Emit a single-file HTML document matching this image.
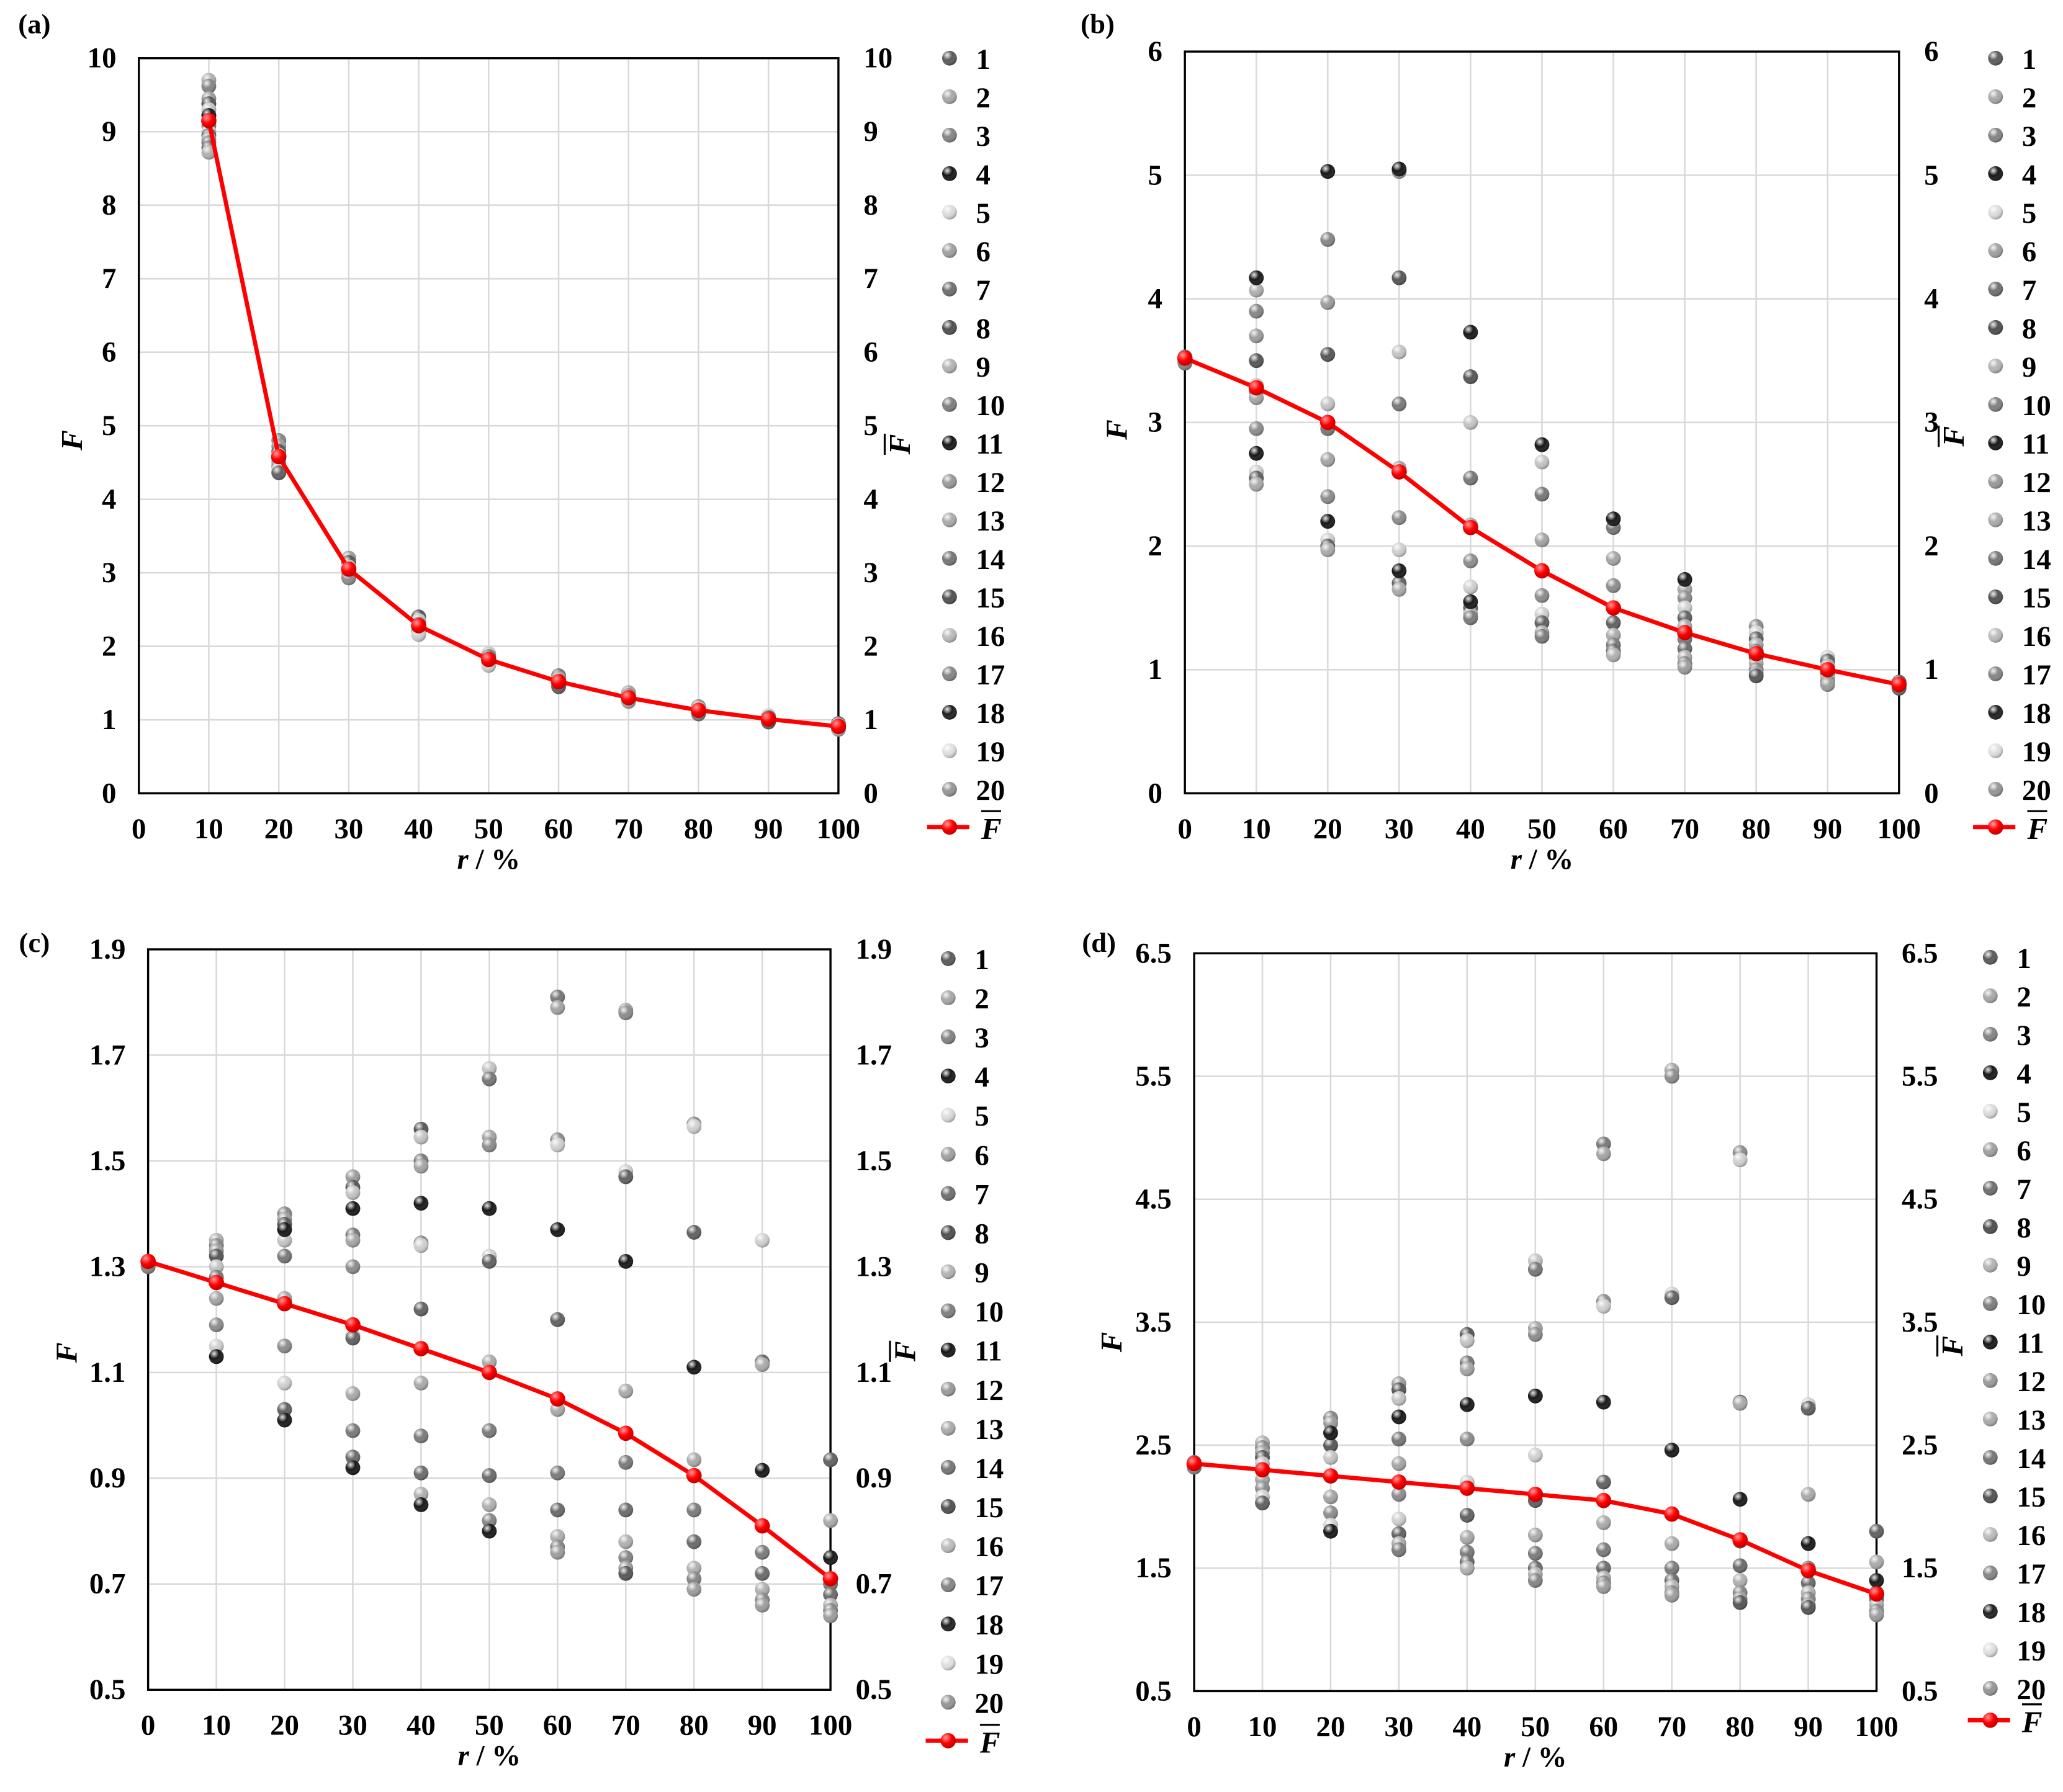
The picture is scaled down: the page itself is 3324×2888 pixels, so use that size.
<!DOCTYPE html>
<html><head><meta charset="utf-8"><style>
html,body{margin:0;padding:0;background:#fff;}
svg{display:block;}
text{font-family:"Liberation Serif","Times New Roman",serif;font-weight:bold;fill:#000;}
</style></head><body>
<svg id="fig" width="3324" height="2888" viewBox="0 0 1560 1355.3" preserveAspectRatio="none" xmlns="http://www.w3.org/2000/svg">
<defs>
<radialGradient id="gr" cx="0.35" cy="0.3" r="0.75"><stop offset="0" stop-color="#fff" stop-opacity="0.9"/><stop offset="0.45" stop-color="#fff" stop-opacity="0"/><stop offset="1" stop-color="#000" stop-opacity="0.35"/></radialGradient>
<radialGradient id="rg" cx="0.35" cy="0.3" r="0.75"><stop offset="0" stop-color="#ff9a9a"/><stop offset="0.5" stop-color="#f00"/><stop offset="1" stop-color="#b00"/></radialGradient>
</defs>
</svg>
<script>
const xCats = [0,10,20,30,40,50,60,70,80,90,100];
const seriesNames = ['1','2','3','4','5','6','7','8','9','10','11','12','13','14','15','16','17','18','19','20'];
const seriesShades = ['#5a5a5a','#a8a8a8','#838383','#151515','#dcdcdc','#a0a0a0','#6e6e6e','#4e4e4e','#b4b4b4','#7e7e7e','#151515','#999','#ababab','#757575','#505050','#bcbcbc','#858585','#1e1e1e','#e0e0e0','#959595'];
const pointShades = ['#6a6a6a','#b0b0b0','#858585','#9c9c9c','#555','#c4c4c4','#777','#a4a4a4','#8c8c8c','#d0d0d0','#606060','#aaa','#7a7a7a'];

// Panel (a)
const aVals = [[],
 [9.7,9.62,9.45,9.38,9.3,9.22,9.15,9.08,9.0,8.95,8.9,8.85,8.78,8.72],
 [4.8,4.72,4.65,4.6,4.55,4.5,4.45,4.4,4.36],
 [3.2,3.14,3.08,3.03,2.98,2.93],
 [2.4,2.35,2.3,2.25,2.2,2.16],
 [1.9,1.86,1.82,1.78,1.74],
 [1.6,1.56,1.52,1.48,1.45],
 [1.37,1.33,1.3,1.27,1.25],
 [1.18,1.15,1.12,1.1,1.08],
 [1.06,1.03,1.0,0.98,0.97],
 [0.95,0.93,0.91,0.89,0.87]];
const aBlack = [null,9.22,null,null,null,null,null,null,null,null,null];
const aMean = [null,9.15,4.58,3.05,2.28,1.82,1.52,1.3,1.13,1.01,0.91];

// Panel (b)
const bVals = [[3.53,3.5,3.48],
 [4.07,3.9,3.7,3.5,3.3,3.25,3.2,2.95,2.6,2.55,2.5],
 [4.48,3.97,3.55,3.15,2.95,2.7,2.4,2.05,2.0,1.97],
 [5.03,4.17,3.57,3.15,2.63,2.23,1.97,1.7,1.65],
 [3.37,3.0,2.55,2.17,1.88,1.67,1.5,1.45,1.42],
 [2.68,2.42,2.05,1.6,1.45,1.38,1.3,1.27],
 [2.15,1.9,1.68,1.5,1.38,1.28,1.2,1.15,1.12],
 [1.65,1.58,1.5,1.42,1.35,1.25,1.17,1.1,1.05,1.02],
 [1.35,1.3,1.25,1.2,1.15,1.1,1.05,1.0,0.97,0.95],
 [1.1,1.07,1.03,1.0,0.97,0.93,0.9,0.88],
 [0.9,0.88,0.86,0.85]];
const bBlack = [null,4.17,5.03,5.05,3.73,2.82,2.22,1.73,null,null,null];
const bBlack2 = [null,2.75,2.2,1.8,1.55,null,null,null,null,null,null];
const bMean = [3.52,3.28,3.0,2.6,2.15,1.8,1.5,1.3,1.13,1.0,0.88];

// Panel (c)
const cVals = [[1.31,1.3,1.3],
 [1.35,1.34,1.33,1.32,1.3,1.28,1.24,1.19,1.15],
 [1.4,1.39,1.38,1.35,1.32,1.24,1.15,1.08,1.03],
 [1.47,1.45,1.44,1.36,1.35,1.3,1.17,1.165,1.06,0.99,0.94],
 [1.56,1.545,1.5,1.49,1.345,1.34,1.22,1.08,0.98,0.91,0.87],
 [1.675,1.655,1.545,1.53,1.32,1.31,1.12,0.99,0.905,0.85,0.82],
 [1.81,1.79,1.54,1.53,1.2,1.03,0.91,0.84,0.79,0.77,0.76],
 [1.785,1.78,1.48,1.47,1.065,0.93,0.84,0.78,0.75,0.73,0.72],
 [1.57,1.565,1.365,0.935,0.84,0.78,0.73,0.71,0.69],
 [1.35,1.12,1.115,0.76,0.72,0.69,0.67,0.66],
 [0.935,0.82,0.7,0.68,0.66,0.65,0.64]];
const cBlack = [null,1.13,1.37,1.41,1.42,1.41,1.37,1.31,1.11,0.915,0.75];
const cBlack2 = [null,null,1.01,0.92,0.85,0.8,null,null,null,null,null];
const cMean = [1.31,1.27,1.23,1.19,1.145,1.1,1.05,0.985,0.905,0.81,0.71];

// Panel (d)
const dVals = [[2.36,2.34,2.32],
 [2.52,2.48,2.44,2.4,2.35,2.3,2.22,2.15,2.08,2.03],
 [2.72,2.68,2.5,2.4,2.25,2.08,1.95,1.85],
 [3.0,2.95,2.88,2.55,2.35,2.1,1.9,1.78,1.7,1.65],
 [3.4,3.35,3.17,3.12,2.55,2.2,1.93,1.75,1.63,1.55,1.5],
 [4.0,3.93,3.45,3.4,2.42,2.05,1.77,1.62,1.5,1.45,1.4],
 [4.95,4.87,3.67,3.63,2.2,1.87,1.65,1.5,1.42,1.38,1.35],
 [5.55,5.5,3.73,3.7,1.7,1.5,1.4,1.35,1.3,1.28],
 [4.88,4.82,2.85,2.84,1.72,1.52,1.4,1.3,1.25,1.22],
 [2.83,2.8,2.1,1.5,1.38,1.3,1.25,1.2,1.18],
 [1.8,1.55,1.3,1.25,1.2,1.15,1.12]];
const dBlack = [null,null,2.6,2.73,2.83,2.9,2.85,2.46,2.06,1.7,1.4];
const dBlack2 = [null,null,1.8,null,null,null,null,null,null,null,null];
const dMean = [2.35,2.3,2.25,2.2,2.15,2.1,2.05,1.94,1.73,1.48,1.29];

const yTicksA = ['0','1','2','3','4','5','6','7','8','9','10'];
const yTicksB = ['0','1','2','3','4','5','6'];
const yTicksC = ['0.5','0.7','0.9','1.1','1.3','1.5','1.7','1.9'];
const yTicksD = ['0.5','1.5','2.5','3.5','4.5','5.5','6.5'];

const NS='http://www.w3.org/2000/svg';
const svg=document.getElementById('fig');
function mk(tag,attrs,parent){const e=document.createElementNS(NS,tag);for(const k in attrs)e.setAttribute(k,attrs[k]);(parent||svg).appendChild(e);return e;}
function txt(str,x,y,anchor,size,parent){const t=mk('text',{x:x,y:y,'text-anchor':anchor,'font-size':size},parent);t.textContent=str;return t;}
function ball(cx,cy,fill,r,parent){const g=mk('g',{},parent);mk('circle',{cx:cx,cy:cy,r:r,fill:fill},g);mk('circle',{cx:cx,cy:cy,r:r,fill:'url(#gr)'},g);return g;}

const panels=[
 {id:'a',tag:'(a)',tx:26,ty:25,L:105,R:634,T:44,B:600,yt:yTicksA,vals:aVals,blacks:[aBlack],mean:aMean,lx:718,lt:44,ls:29.1,ly:62,lyy:333,ry:688,ryy:336},
 {id:'b',tag:'(b)',tx:830,ty:25,L:896,R:1436,T:39,B:600,yt:yTicksB,vals:bVals,blacks:[bBlack,bBlack2],mean:bMean,lx:1509,lt:44,ls:29.1,ly:852,lyy:325,ry:1485,ryy:330},
 {id:'c',tag:'(c)',tx:26,ty:720,L:112,R:628,T:718,B:1278,yt:yTicksC,vals:cVals,blacks:[cBlack,cBlack2],mean:cMean,lx:717,lt:725,ls:29.6,ly:58,lyy:1023,ry:692,ryy:1022},
 {id:'d',tag:'(d)',tx:831,ty:720,L:903,R:1419,T:721,B:1279,yt:yTicksD,vals:dVals,blacks:[dBlack,dBlack2],mean:dMean,lx:1505,lt:724,ls:29.1,ly:848,lyy:1015,ry:1484,ryy:1018}
];

panels.forEach(p=>{
 const g=mk('g',{});
 
 
 const ymin=parseFloat(p.yt[0]), ymax=parseFloat(p.yt[p.yt.length-1]);
 const X=v=>p.L+(v-0)/100*(p.R-p.L);
 const Y=v=>p.B-(v-ymin)/(ymax-ymin)*(p.B-p.T);
 xCats.forEach(c=>{const l=mk('line',{x1:X(c),x2:X(c),y1:p.T,y2:p.B,stroke:'#d9d9d9','stroke-width':1.2},g);
  });
 p.yt.forEach(t=>{const v=parseFloat(t);const l=mk('line',{x1:p.L,x2:p.R,y1:Y(v),y2:Y(v),stroke:'#d9d9d9','stroke-width':1.2},g);
  
  const tl=txt(t,p.L-17,Y(v)+7,'end',22,g);
  const tr=txt(t,p.R+19,Y(v)+7,'start',22,g);});
 const fr=mk('rect',{x:p.L,y:p.T,width:p.R-p.L,height:p.B-p.T,fill:'none',stroke:'#000','stroke-width':1.6},g);
 
 xCats.forEach(c=>{const t=txt(String(c),X(c),p.B+34,'middle',22,g);});
 const xl=mk('text',{x:(p.L+p.R)/2,y:p.B+57,'text-anchor':'middle','font-size':22},g);
 xl.innerHTML='<tspan font-style="italic">r</tspan> / %';
 
 const yl=mk('text',{x:p.ly,y:p.lyy,'text-anchor':'middle','font-size':23,'font-style':'italic',transform:`rotate(-90 ${p.ly} ${p.lyy})`},g);
 yl.textContent='F';
 const ryl=mk('text',{x:p.ry,y:p.ryy,'text-anchor':'middle','font-size':23,'font-style':'italic',transform:`rotate(-90 ${p.ry} ${p.ryy})`},g);
 ryl.textContent='F';
 mk('line',{x1:p.ry-19,x2:p.ry-19,y1:p.ryy-8,y2:p.ryy+8,stroke:'#000','stroke-width':1.5},g);
 const tg=txt(p.tag,p.tx,p.ty,'middle',21,g);
 p.vals.forEach((arr,i)=>{arr.forEach((v,j)=>{const b=ball(X(xCats[i]),Y(v),pointShades[(j+i)%pointShades.length],5.6,g);
   });});
 p.blacks.forEach(bl=>bl.forEach((v,i)=>{if(v==null)return;const b=ball(X(xCats[i]),Y(v),'#161616',5.6,g);
   }));
 let d='';p.mean.forEach((v,i)=>{if(v==null)return;d+=(d?'L':'M')+X(xCats[i])+','+Y(v);});
 const ml=mk('path',{d:d,fill:'none',stroke:'#f00','stroke-width':3.2,'stroke-linejoin':'round'},g);
 
 p.mean.forEach((v,i)=>{if(v==null)return;const c=mk('circle',{cx:X(xCats[i]),cy:Y(v),r:5.8,fill:'url(#rg)'},g);
  });
 seriesNames.forEach((n,k)=>{const y=p.lt+k*p.ls;const lg=mk('g',{},g);
  
  ball(p.lx,y,seriesShades[k],5.6,lg);txt(n,p.lx+20,y+8,'start',22,lg);});
 const fy=p.lt+20*p.ls+(p.id==='d'?-5:-0.5);
 const le=mk('g',{},g);
 mk('line',{x1:p.lx-17,x2:p.lx+15,y1:fy,y2:fy,stroke:'#f00','stroke-width':3.2},le);
 mk('circle',{cx:p.lx,cy:fy,r:5.8,fill:'url(#rg)'},le);
 const ft=mk('text',{x:p.lx+24,y:fy+9,'text-anchor':'start','font-size':23,'font-style':'italic'},le);ft.textContent='F';
 mk('line',{x1:p.lx+24,x2:p.lx+39,y1:fy-12,y2:fy-12,stroke:'#000','stroke-width':1.5},le);
});
</script>
</body></html>
